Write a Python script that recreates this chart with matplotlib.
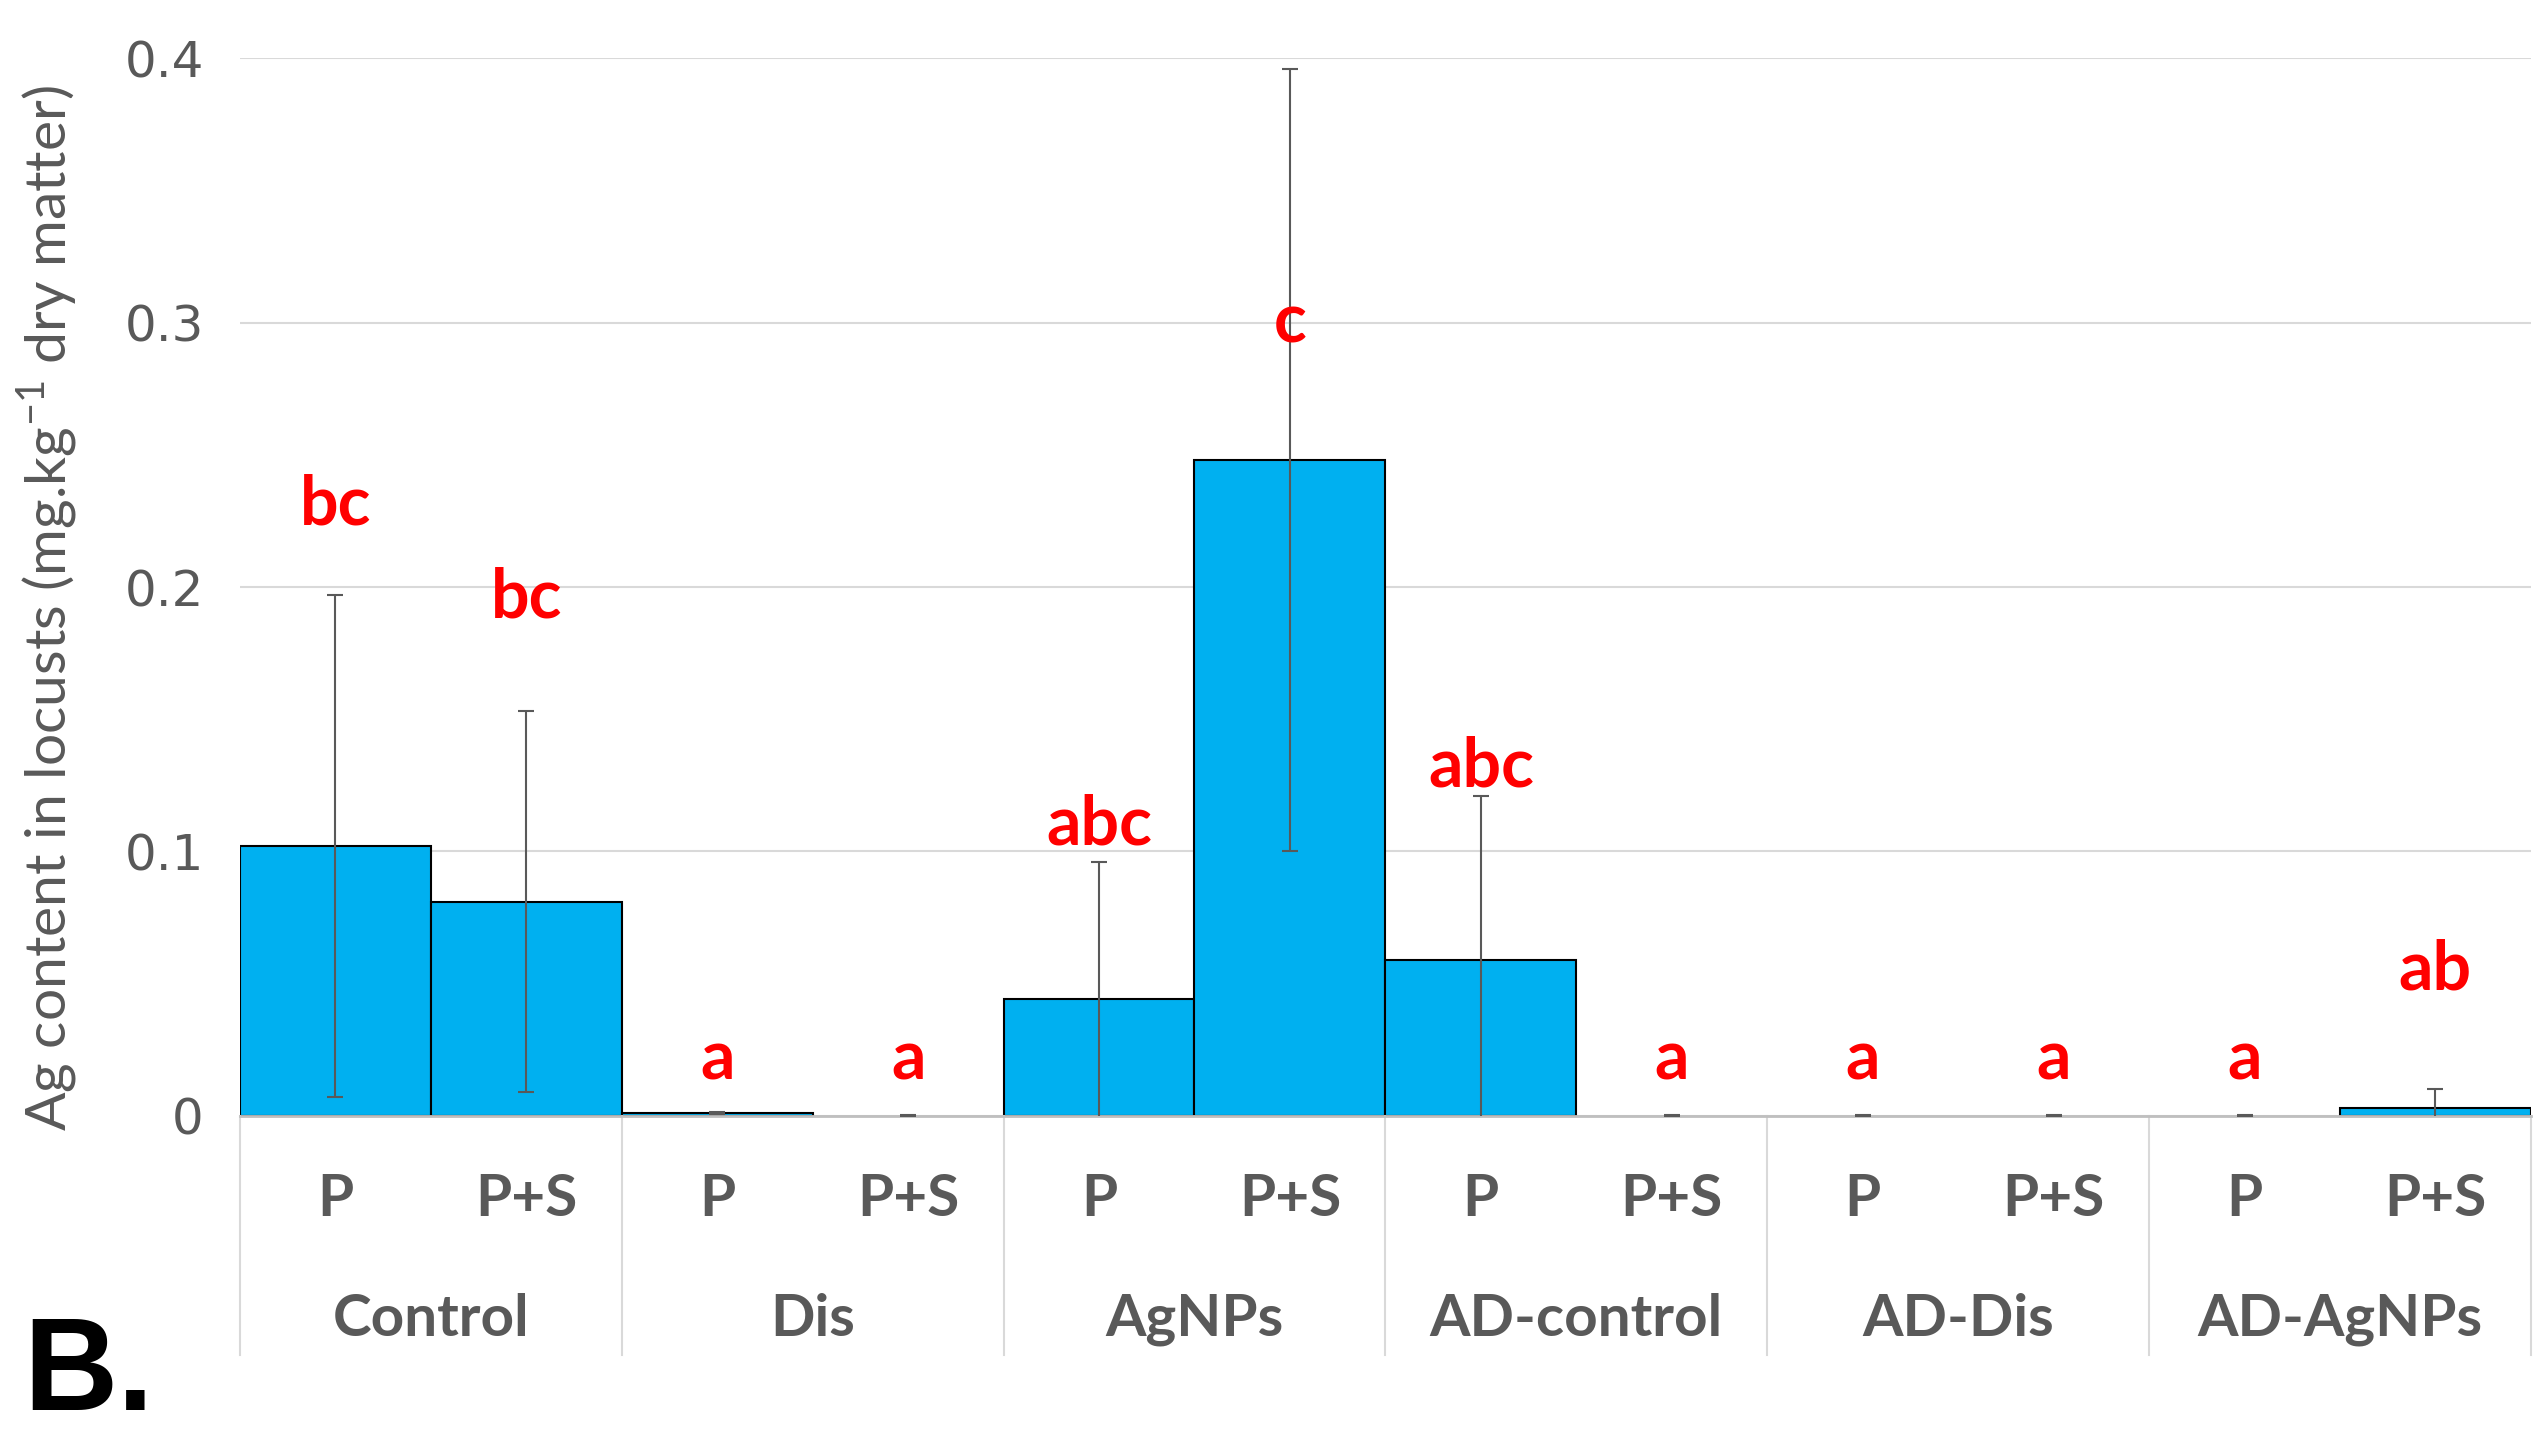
import matplotlib.pyplot as plt
import matplotlib.transforms as mtransforms
import numpy as np

groups = ['Control', 'Dis', 'AgNPs', 'AD-control', 'AD-Dis', 'AD-AgNPs']
treatments = ['P', 'P+S']

# mean Ag content (mg/kg dry matter) and standard deviation
means_P = [0.102, 0.001, 0.044, 0.059, 0.0, 0.0]
means_PS = [0.081, 0.0, 0.248, 0.0, 0.0, 0.003]
sd_P = [0.095, 0.0005, 0.052, 0.062, 0.0003, 0.0003]
sd_PS = [0.072, 0.0003, 0.148, 0.0003, 0.0003, 0.007]

# significance letters and the height they sit at
letters_P = ['bc', 'a', 'abc', 'abc', 'a', 'a']
letters_PS = ['bc', 'a', 'c', 'a', 'a', 'ab']
letter_y_P = [0.231, 0.021, 0.110, 0.132, 0.021, 0.021]
letter_y_PS = [0.196, 0.021, 0.300, 0.021, 0.021, 0.055]

yticks = [0, 0.1, 0.2, 0.3, 0.4]
ytick_labels = ['0', '0.1', '0.2', '0.3', '0.4']

BLUE = '#00B0F0'
GREY = '#595959'

fig = plt.figure(figsize=(25.39, 14.40), dpi=100)
ax = fig.add_axes([0.0945, 0.2252, 0.9023, 0.7343])

# interleave P / P+S
means = np.ravel(np.column_stack([means_P, means_PS]))
sds = np.ravel(np.column_stack([sd_P, sd_PS]))
letters = np.ravel(np.column_stack([letters_P, letters_PS]))
letter_y = np.ravel(np.column_stack([letter_y_P, letter_y_PS]))
x = np.arange(len(means))

# empty bars get no outline (as in the spreadsheet chart)
lw = [1.5 if m > 0 else 0 for m in means]
ax.bar(x, means, width=1.0, color=BLUE, edgecolor='black', linewidth=lw, zorder=2)
ax.errorbar(x, means, yerr=sds, fmt='none', ecolor=GREY, elinewidth=1.5,
            capsize=6, capthick=1.5, zorder=3)

for xi, lab, ly in zip(x, letters, letter_y):
    ax.text(xi, ly, lab, ha='center', va='center', color='red',
            fontsize=49, fontweight='bold', family='Lato', zorder=4)

ax.set_xlim(-0.5, len(means) - 0.5)
ax.set_ylim(0, 0.4)
ax.set_yticks(yticks)
ax.set_yticklabels(ytick_labels, fontsize=36, color=GREY, family='DejaVu Sans')
ax.tick_params(axis='y', length=0, pad=26)
ax.grid(axis='y', color='#d9d9d9', linewidth=1.5, zorder=0)
ax.set_axisbelow(True)
for s in ['top', 'right', 'left']:
    ax.spines[s].set_visible(False)
ax.spines['bottom'].set_color('#bfbfbf')
ax.spines['bottom'].set_linewidth(2)

ax.set_ylabel(r'Ag content in locusts (mg.kg$^{\mathregular{-1}}$ dry matter)',
              fontsize=41, color=GREY, family='Lato')
ax.yaxis.set_label_coords(-0.07, 0.48)

# two-level category axis
ax.set_xticks([])
trans = mtransforms.blended_transform_factory(ax.transData, ax.transAxes)
for xi in x:
    ax.text(xi, -0.079, treatments[xi % 2], transform=trans, ha='center', va='center',
            fontsize=42, fontweight='bold', color=GREY, family='Lato')
for gi, g in enumerate(groups):
    ax.text(2 * gi + 0.5, -0.193, g, transform=trans, ha='center', va='center',
            fontsize=42, fontweight='bold', color=GREY, family='Lato')
for b in np.arange(len(groups) + 1) * 2 - 0.5:
    ax.plot([b, b], [0, -0.2265], transform=trans, color='#d9d9d9',
            linewidth=1.5, clip_on=False)

fig.text(0.009, 0.002, 'B.', fontsize=94, fontweight='bold',
         family='Liberation Sans', color='black', ha='left', va='bottom')

fig.savefig('out.png', dpi=100)
